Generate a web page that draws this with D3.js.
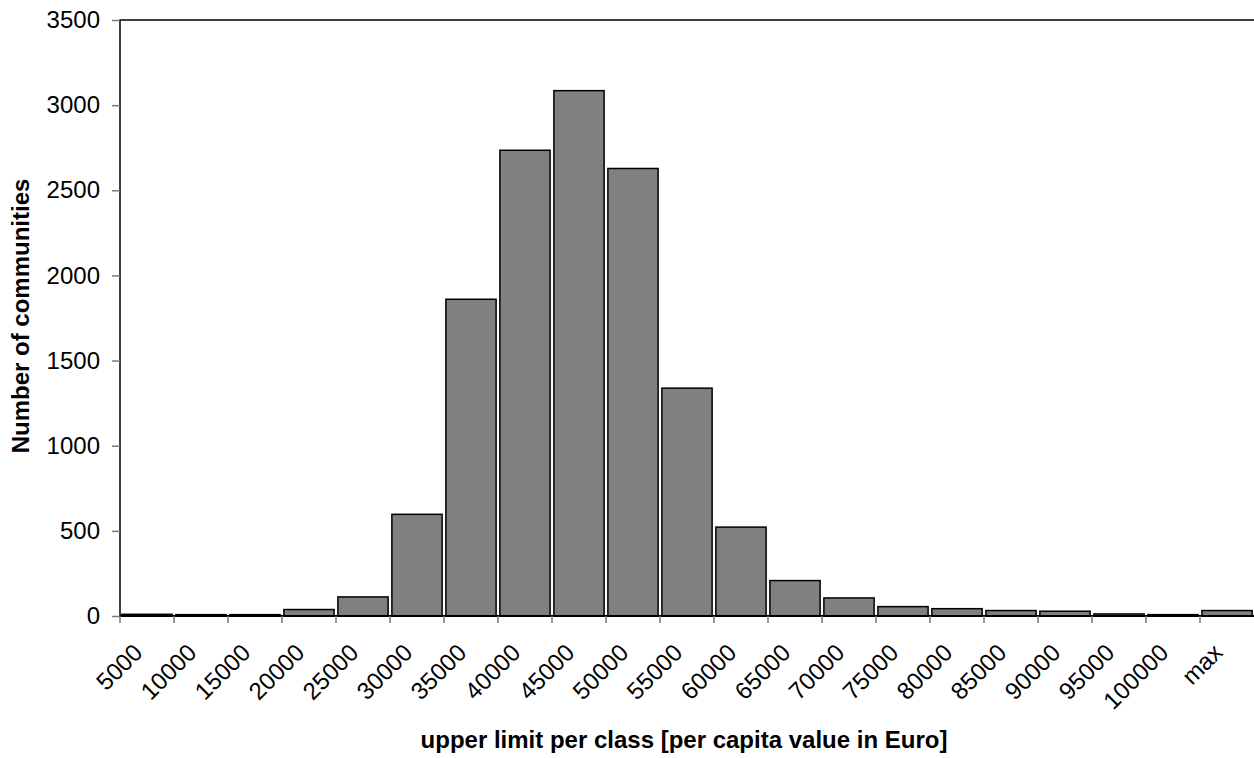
<!DOCTYPE html>
<html>
<head>
<meta charset="utf-8">
<script src="https://cdn.jsdelivr.net/npm/d3@7"></script>
<style>
  body { margin: 0; background: #fff; }
  svg { display: block; font-family: "Liberation Sans", Arial, sans-serif; }
</style>
</head>
<body>
<svg id="chart" width="1254" height="758"></svg>
<script>
// categories = upper limit of each class
var classes = ["5000", "10000", "15000", "20000", "25000", "30000", "35000",
	"40000", "45000", "50000", "55000", "60000", "65000", "70000", "75000",
	"80000", "85000", "90000", "95000", "100000", "max"];
var counts = [10, 8, 8, 38, 112, 597, 1860, 2735, 3085, 2628, 1338, 522,
	208, 106, 55, 43, 32, 28, 12, 8, 32];
var yTicks = [0, 500, 1000, 1500, 2000, 2500, 3000, 3500];

var svg = d3.select('#chart');
var pLeft = 120, pTop = 20, pRight = 1254, pBottom = 616;
var fontSize = 24;

var x = d3.scaleBand()
	.domain(classes)
	.range([pLeft, pRight])
	.paddingInner(0.07)
	.paddingOuter(0.035);

var y = d3.scaleLinear()
	.domain([0, 3500])
	.range([pBottom, pTop]);

// plot border (top + left, right edge falls off the canvas)
svg.append('rect')
	.attr('x', pLeft)
	.attr('y', pTop)
	.attr('width', pRight - pLeft + 2)
	.attr('height', pBottom - pTop)
	.style('fill', 'none')
	.style('stroke', '#000')
	.style('stroke-width', 1.5);

svg.append('g')
	.selectAll('rect')
	.data(counts)
	.enter()
	.append('rect')
	.attr('x', function (d, i) { return x(classes[i]); })
	.attr('y', function (d) { return y(d); })
	.attr('width', x.bandwidth())
	.attr('height', function (d) { return y(0) - y(d); })
	.style('fill', '#808080')
	.style('stroke', '#000')
	.style('stroke-width', 1.5);

// y axis
var yAxis = svg.append('g')
	.attr('transform', 'translate(' + pLeft + ',0)')
	.call(d3.axisLeft(y).tickValues(yTicks).tickSize(8).tickPadding(12).tickFormat(d3.format('d')));
yAxis.select('.domain').remove();
yAxis.selectAll('line').attr('stroke', '#777').attr('stroke-width', 1.5);
yAxis.selectAll('text')
	.style('font-size', fontSize + 'px')
	.style('fill', '#000');

// x axis: ticks on class boundaries
var xAxis = svg.append('g');
xAxis.append('line')
	.attr('x1', pLeft).attr('x2', pRight)
	.attr('y1', pBottom).attr('y2', pBottom)
	.attr('stroke', '#000').attr('stroke-width', 2);
xAxis.selectAll('.tick')
	.data(classes)
	.enter()
	.append('line')
	.attr('x1', function (d) { return x(d) - x.step() * x.paddingInner() / 2; })
	.attr('x2', function (d) { return x(d) - x.step() * x.paddingInner() / 2; })
	.attr('y1', pBottom)
	.attr('y2', pBottom + 7)
	.attr('stroke', '#777')
	.attr('stroke-width', 1.5);
xAxis.selectAll('text')
	.data(classes)
	.enter()
	.append('text')
	.attr('transform', function (d) {
		return 'translate(' + (x(d) + x.bandwidth() / 2 - 3) + ',' + (pBottom + 38) + ') rotate(-45)';
	})
	.attr('text-anchor', 'end')
	.style('font-size', fontSize + 'px')
	.text(function (d) { return d; });

svg.append('text')
	.attr('x', 684)
	.attr('y', 748)
	.attr('text-anchor', 'middle')
	.style('font-size', fontSize + 'px')
	.style('font-weight', 'bold')
	.text('upper limit per class [per capita value in Euro]');

svg.append('text')
	.attr('transform', 'translate(29,316) rotate(-90)')
	.attr('text-anchor', 'middle')
	.style('font-size', fontSize + 'px')
	.style('font-weight', 'bold')
	.text('Number of communities');
</script>
</body>
</html>
